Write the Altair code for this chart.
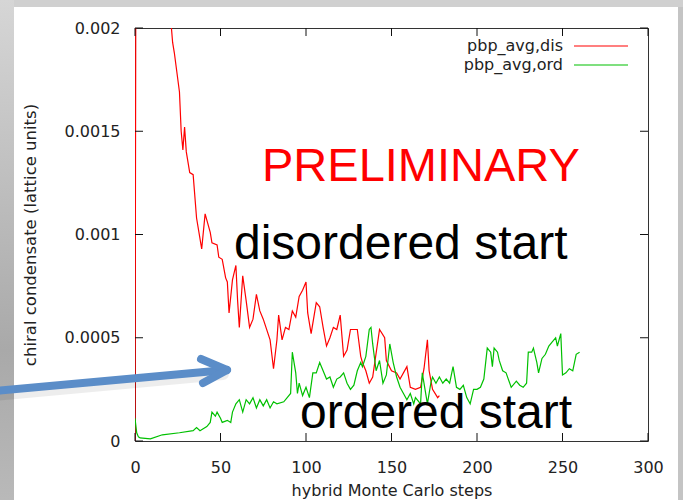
import altair as alt
import pandas as pd

# Hybrid Monte Carlo history of the chiral condensate from two starts
red_steps = [0, 1, 3, 6, 10, 14, 18, 21, 22, 23, 26, 27, 28, 29, 30, 32, 34, 36, 39, 41,
             44, 45, 48, 49, 51, 53, 54, 55, 57, 59, 60, 61, 63, 65, 67, 69, 71, 73, 75, 79,
             81, 83, 84, 86, 88, 90, 92, 94, 96, 98, 100, 101, 103, 106, 108, 110, 112, 114, 116, 118,
             120, 122, 124, 126, 130, 132, 133, 135, 137, 139, 143, 146, 147, 150, 153, 155, 159, 161, 164, 167,
             169, 171, 172, 174, 177, 178]
red_vals = [0.0, 0.0046, 0.0041, 0.0035, 0.0029, 0.0025, 0.0022, 0.00203, 0.00193, 0.00188,
            0.00169, 0.00150, 0.00141, 0.00152, 0.00140, 0.00130, 0.00129, 0.00108, 0.00093, 0.00110,
            0.00101, 0.00096, 0.00095, 0.00089, 0.00088, 0.00079, 0.00077, 0.00062, 0.00078, 0.00085,
            0.00068, 0.00055, 0.00080, 0.00068, 0.00055, 0.00059, 0.00071, 0.00063, 0.00059, 0.00049,
            0.00035, 0.00049, 0.00061, 0.00049, 0.00055, 0.00054, 0.00063, 0.00060, 0.00070, 0.00073,
            0.00077, 0.00062, 0.00052, 0.00067, 0.00065, 0.00055, 0.00046, 0.00050, 0.00055, 0.00054,
            0.00061, 0.00041, 0.00044, 0.00054, 0.00054, 0.00041, 0.00038, 0.00034, 0.00028, 0.00031,
            0.00054, 0.00050, 0.00039, 0.00034, 0.00033, 0.00030, 0.00036, 0.00026, 0.00025, 0.00026,
            0.00035, 0.00049, 0.00034, 0.00025, 0.00021, 0.00022]

green_steps = [0, 1, 2, 3, 9, 16, 26, 34, 36, 38, 42, 44, 45, 47, 48, 50, 51, 54, 56, 57,
               59, 61, 63, 65, 67, 69, 71, 73, 75, 77, 79, 81, 83, 87, 89, 91, 92, 94, 95, 96,
               98, 100, 102, 104, 106, 108, 110, 112, 114, 116, 118, 120, 122, 124, 126, 128, 130, 132, 133, 135,
               137, 138, 139, 141, 143, 145, 147, 149, 151, 153, 155, 157, 159, 161, 163, 164, 167, 168, 171, 173,
               174, 176, 178, 180, 182, 184, 186, 188, 190, 192, 194, 196, 198, 200, 202, 204, 206, 208, 209, 210,
               212, 213, 215, 217, 220, 223, 225, 227, 229, 230, 232, 233, 235, 236, 238, 240, 242, 244, 246, 247,
               249, 250, 252, 254, 256, 258, 260]
green_vals = [0.00011, 0.00004, 0.00002, 0.000015, 0.00001, 0.00003, 0.00004, 0.00005, 0.000065, 0.00005,
              0.00007, 0.00009, 0.00014, 0.00012, 0.00014, 0.00011, 0.00009, 0.00010, 0.00009, 0.00014,
              0.00018, 0.00020, 0.00014, 0.00020, 0.00018, 0.00021, 0.00016, 0.00020, 0.00017, 0.00020,
              0.00016, 0.00019, 0.00018, 0.00019, 0.00021, 0.00023, 0.00043, 0.00033, 0.00023, 0.00028,
              0.00022, 0.00026, 0.00021, 0.00033, 0.00033, 0.00038, 0.00034, 0.00030, 0.00031, 0.00026,
              0.00030, 0.00031, 0.00033, 0.00028, 0.00025, 0.00027, 0.00034, 0.00038, 0.00036, 0.00041,
              0.00054, 0.00055, 0.00047, 0.00034, 0.00039, 0.00028, 0.00032, 0.00047, 0.00038, 0.00031,
              0.00026, 0.00023, 0.00020, 0.00023, 0.00018, 0.00021, 0.00018, 0.00033, 0.00018, 0.00028,
              0.00031, 0.00028, 0.00031, 0.00028, 0.00030, 0.00028, 0.00036, 0.00026, 0.00025, 0.00027,
              0.00021, 0.00018, 0.00025, 0.00025, 0.00026, 0.00030, 0.00045, 0.00043, 0.00036, 0.00045,
              0.00043, 0.00039, 0.00034, 0.00033, 0.00026, 0.00029, 0.00027, 0.00026, 0.00028, 0.00043,
              0.00043, 0.00045, 0.00038, 0.00033, 0.00040, 0.00042, 0.00046, 0.00048, 0.00050, 0.00046,
              0.00052, 0.00032, 0.00033, 0.00035, 0.00034, 0.00042, 0.00043]

series_names = ["pbp_avg,dis", "pbp_avg,ord"]
series_colors = ["#ff0000", "#00c000"]

x_ticks = [0, 50, 100, 150, 200, 250, 300]
y_ticks = [0, 0.0005, 0.001, 0.0015, 0.002]

W, H = 513, 413
SANS = "DejaVu Sans"
INK = "#222222"

df = pd.concat([
    pd.DataFrame({"step": red_steps, "value": red_vals, "series": series_names[0]}),
    pd.DataFrame({"step": green_steps, "value": green_vals, "series": series_names[1]}),
])

xscale = alt.Scale(domain=[0, 300], nice=False, zero=False)
yscale = alt.Scale(domain=[0, 0.002], nice=False)
xaxis = alt.Axis(values=x_ticks, title="hybrid Monte Carlo steps", grid=False, domain=False,
                 ticks=False, tickSize=0, labelPadding=18, labelFontSize=16, labelFont=SANS,
                 labelColor=INK, labelFlush=False, labelOverlap=False,
                 titleFont=SANS, titleFontSize=16, titleFontWeight="normal",
                 titleColor=INK, titleY=49, titleBaseline="middle", zindex=1)
yaxis = alt.Axis(values=y_ticks, title="chiral condensate (lattice units)", grid=False,
                 domain=False, ticks=False, tickSize=0, labelPadding=15, labelFontSize=16,
                 labelFont=SANS, labelColor=INK, labelExpr="'' + datum.value",
                 labelFlush=False, labelOverlap=False,
                 titleFont=SANS, titleFontSize=16.5, titleFontWeight="normal", titleColor=INK,
                 titleX=-105, titleY=H / 2, titleAngle=-90, titleBaseline="middle",
                 titleAlign="center", zindex=1)
X = alt.X("step:Q", scale=xscale, axis=xaxis)
Y = alt.Y("value:Q", scale=yscale, axis=yaxis)

# slide frame around the white page
left_strip = alt.Chart(pd.DataFrame({"k": [0]})).mark_rect(
    fill=alt.Gradient(gradient="linear", x1=0, x2=0, y1=0, y2=1,
                      stops=[alt.GradientStop(offset=0, color="#d6d6d6"),
                             alt.GradientStop(offset=0.7, color="#a9a9a9"),
                             alt.GradientStop(offset=1, color="#b9b9b9")])
).encode(x=alt.value(-135), x2=alt.value(-121), y=alt.value(-28), y2=alt.value(472))
top_strip = alt.Chart(pd.DataFrame({"k": [0]})).mark_rect(color="#d0d0d0").encode(
    x=alt.value(-121), x2=alt.value(548), y=alt.value(-28), y2=alt.value(-21))
right_strip = alt.Chart(pd.DataFrame({"k": [0]})).mark_rect(color="#c4c4c4").encode(
    x=alt.value(543), x2=alt.value(548), y=alt.value(-21), y2=alt.value(472))

lines = alt.Chart(df).mark_line(strokeWidth=1.2, clip=True, interpolate="linear").encode(
    x=X, y=Y,
    color=alt.Color("series:N", scale=alt.Scale(domain=series_names, range=series_colors),
                    legend=None),
    detail="series:N",
)

# inward ticks on all four sides
xt = pd.DataFrame({"step": x_ticks})
yt = pd.DataFrame({"value": y_ticks})
tick_style = dict(color="#111111", strokeWidth=1)
ticks_bottom = alt.Chart(xt).mark_rule(**tick_style).encode(x=X, y=alt.value(H), y2=alt.value(H - 8))
ticks_top = alt.Chart(xt).mark_rule(**tick_style).encode(x=X, y=alt.value(0), y2=alt.value(8))
ticks_left = alt.Chart(yt).mark_rule(**tick_style).encode(y=Y, x=alt.value(0), x2=alt.value(8))
ticks_right = alt.Chart(yt).mark_rule(**tick_style).encode(y=Y, x=alt.value(W), x2=alt.value(W - 8))

# key in the upper right corner
key_layers = []
for i, (name, col) in enumerate(zip(series_names, series_colors)):
    ky = 18 + 19 * i
    kd = pd.DataFrame({"series": [name]})
    key_layers.append(alt.Chart(kd).mark_text(align="right", baseline="middle", font=SANS,
                                              fontSize=16, color=INK).encode(
        text="series:N", x=alt.value(428), y=alt.value(ky)))
    key_layers.append(alt.Chart(kd).mark_rule(color=col, strokeWidth=1.2).encode(
        x=alt.value(439), x2=alt.value(493), y=alt.value(ky)))

# annotations
notes = pd.DataFrame({
    "label": ["PRELIMINARY", "disordered start", "ordered start"],
    "color": ["#ff0000", "#000000", "#000000"],
})
def note(i, px, py, size):
    return alt.Chart(notes.iloc[[i]]).mark_text(
        align="left", baseline="alphabetic", font="Liberation Sans", fontSize=size,
        color=notes["color"][i]).encode(text="label:N", x=alt.value(px), y=alt.value(py))

note_layers = [note(0, 127, 153, 47), note(1, 99, 231, 48), note(2, 165, 400, 48)]

# pointer arrow
ARROW = "#5b8dc8"
arrow_df = pd.DataFrame({"k": [0]})
arrow_shadow = alt.Chart(arrow_df).mark_rule(color="#000000", opacity=0.07, strokeWidth=12,
                                             strokeCap="round").encode(
    x=alt.value(-140), x2=alt.value(88), y=alt.value(367), y2=alt.value(346))
arrow_shaft = alt.Chart(arrow_df).mark_rule(color=ARROW, strokeWidth=8, strokeCap="round").encode(
    x=alt.value(-140), x2=alt.value(91), y=alt.value(363), y2=alt.value(342))
arrow_up = alt.Chart(arrow_df).mark_rule(color=ARROW, strokeWidth=8, strokeCap="round").encode(
    x=alt.value(66), x2=alt.value(92), y=alt.value(331), y2=alt.value(342))
arrow_dn = alt.Chart(arrow_df).mark_rule(color=ARROW, strokeWidth=8, strokeCap="round").encode(
    x=alt.value(68), x2=alt.value(92), y=alt.value(355), y2=alt.value(342))

chart = alt.layer(
    left_strip, top_strip, right_strip,
    lines, ticks_bottom, ticks_top, ticks_left, ticks_right,
    *key_layers, *note_layers,
    arrow_shadow, arrow_shaft, arrow_up, arrow_dn,
).properties(
    width=W, height=H,
    autosize=alt.AutoSizeParams(type="none"),
    padding={"left": 135, "top": 28, "right": 35, "bottom": 59},
    background="#ffffff",
).configure_view(stroke="#333333", strokeWidth=1)

chart.save("out.html", embed_options={"renderer": "svg", "actions": False})
